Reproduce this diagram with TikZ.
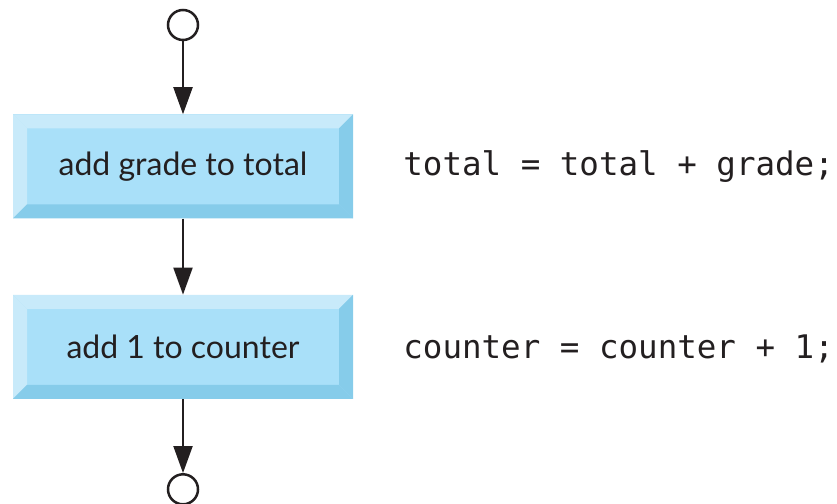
\documentclass[tikz,border=0pt]{standalone}
\usepackage{fontspec}
\setsansfont{Lato}
\setmonofont{DejaVu Sans Mono}
\usetikzlibrary{arrows.meta,positioning}

\definecolor{boxface}{RGB}{169,224,249}
\definecolor{boxlight}{RGB}{200,234,250}
\definecolor{boxdark}{RGB}{134,204,234}
\definecolor{ink}{RGB}{35,31,32}

\begin{document}
\begin{tikzpicture}[
    node distance=74pt,
    % beveled action state
    actbox/.style={minimum width=340pt, minimum height=104pt, inner sep=0pt,
      fill=boxface, text=ink, font=\sffamily\fontsize{32}{36}\selectfont,
      path picture={
        \fill[boxlight] (path picture bounding box.north west)
          -- (path picture bounding box.north east)
          -- ([shift={(-14pt,-14pt)}]path picture bounding box.north east)
          -- ([shift={(14pt,-14pt)}]path picture bounding box.north west) -- cycle;
        \fill[boxlight] (path picture bounding box.north west)
          -- ([shift={(14pt,-14pt)}]path picture bounding box.north west)
          -- ([shift={(14pt,14pt)}]path picture bounding box.south west)
          -- (path picture bounding box.south west) -- cycle;
        \fill[boxdark] (path picture bounding box.south west)
          -- ([shift={(14pt,14pt)}]path picture bounding box.south west)
          -- ([shift={(-14pt,14pt)}]path picture bounding box.south east)
          -- (path picture bounding box.south east) -- cycle;
        \fill[boxdark] (path picture bounding box.south east)
          -- ([shift={(-14pt,14pt)}]path picture bounding box.south east)
          -- ([shift={(-14pt,-14pt)}]path picture bounding box.north east)
          -- (path picture bounding box.north east) -- cycle;
      }},
    endpoint/.style={circle, draw=ink, line width=2.5pt, minimum size=30pt, inner sep=0pt},
    code/.style={inner sep=0pt, text=ink, font=\ttfamily\fontsize{32.5}{36}\selectfont},
    flow/.style={draw=ink, line width=2pt, -{Triangle[length=27pt,width=19pt]}}
  ]
  \useasboundingbox (0pt,0pt) rectangle (837pt,503pt);

  \node[endpoint] (start) at (183pt,478pt) {};
  \node[actbox, below=73pt of start] (addgrade) {add grade to total};
  \node[actbox, below=76pt of addgrade] (addone) {add 1 to counter};
  \node[endpoint, below=74pt of addone] (stop) {};

  \node[code, right=50pt of addgrade.base east, anchor=base west] (gradecode) {total = total + grade;};
  \node[code, right=50pt of addone.base east, anchor=base west] (countcode) {counter = counter + 1;};

  \draw[flow] (start) -- (addgrade);
  \draw[flow] (addgrade) -- (addone);
  \draw[flow] (addone) -- (stop);
\end{tikzpicture}
\end{document}
